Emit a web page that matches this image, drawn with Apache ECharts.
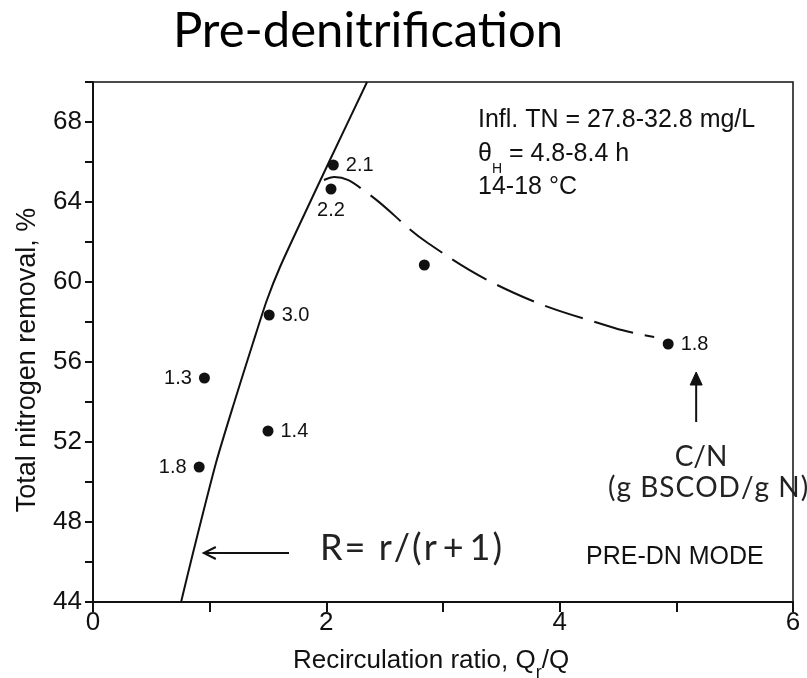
<!DOCTYPE html>
<html>
<head>
<meta charset="utf-8">
<script src="https://cdn.jsdelivr.net/npm/echarts@6/dist/echarts.min.js"></script>
<style>
  html, body { margin: 0; padding: 0; background: #ffffff; }
  #chart { width: 807px; height: 678px; }
</style>
</head>
<body>
<div id="chart"></div>
<script>
// Measured runs: recirculation ratio vs. total nitrogen removal, with the C/N ratio of each run
const ratio   = [0.91, 0.955, 1.50, 1.51, 2.04, 2.06, 2.84, 4.93];
const removal = [50.75, 55.2, 52.55, 58.35, 64.65, 65.85, 60.85, 56.9];
const cnRatio = ['1.8', '1.3', '1.4', '3.0', '2.2', '2.1', '', '1.8'];

// Ideal recycle curve R = r/(r+1), traced points
const curveX = [0.755, 0.857, 1.054, 1.217, 1.371, 1.491, 1.603, 1.817, 2.031, 2.349];
const curveY = [44, 46.45, 50.95, 54.1, 56.95, 59.1, 60.75, 63.45, 66.1, 70.0];

// Trend through the high-recirculation runs
const trendX = [1.98, 2.07, 2.34, 2.87, 3.61, 4.47, 4.81];
const trendY = [65.1, 65.25, 64.5, 61.95, 59.45, 57.7, 57.25];

// Tick labels
const xTickLabels = [0, 2, 4, 6];
const yTickLabels = [44, 48, 52, 56, 60, 64, 68];

// Pointer arrows (data units): [x1, y1, x2, y2, filledHead]
const pointerArrows = [
  [1.68, 46.45, 0.95, 46.45, 0],
  [5.17, 53.0, 5.17, 55.5, 1]
];

// ---- rendering ----
const INK = '#111111';
const SANS = '"Liberation Sans", Arial, sans-serif';
const HUMAN = 'Lato, "Open Sans", sans-serif';

// which side of the dot each C/N label sits on
const labelSide = ['left', 'left', 'right', 'right', 'bottom', 'right', 'right', 'right'];

const points = ratio.map((x, i) => ({
  value: [x, removal[i]],
  label: {
    show: cnRatio[i] !== '',
    formatter: cnRatio[i],
    position: labelSide[i],
    distance: labelSide[i] === 'bottom' ? 6 : 7
  }
}));

// spread characters a little, the way the annotation font sets them
function spaced(str, style, wide) {
  return str.split('').map(ch => `{${wide && wide.includes(ch) ? 'w' : style}|${ch}}`).join('');
}

const chart = echarts.init(document.getElementById('chart'), null, { renderer: 'canvas' });

chart.setOption({
  animation: false,
  backgroundColor: '#ffffff',
  grid: {
    left: 93, right: 14, top: 82, bottom: 76,
    show: true, borderColor: INK, borderWidth: 1.5, backgroundColor: 'transparent'
  },
  xAxis: {
    type: 'value', min: 0, max: 6, interval: 1,
    axisLine: { show: true, onZero: false, lineStyle: { color: INK, width: 2 } },
    axisTick: { show: true, inside: false, length: 10, lineStyle: { color: INK, width: 2 } },
    splitLine: { show: false },
    axisLabel: {
      color: INK, fontFamily: SANS, fontSize: 26, margin: 8,
      formatter: v => xTickLabels.includes(v) ? String(v) : ''
    }
  },
  yAxis: {
    type: 'value', min: 44, max: 70, interval: 2,
    axisLine: { show: true, onZero: false, lineStyle: { color: INK, width: 2 } },
    axisTick: { show: true, inside: false, length: 8, lineStyle: { color: INK, width: 2 } },
    splitLine: { show: false },
    axisLabel: {
      color: INK, fontFamily: SANS, fontSize: 26, margin: 11,
      formatter: v => yTickLabels.includes(v) ? String(v) : ''
    }
  },
  series: [
    {
      type: 'line', name: 'R = r/(r+1)',
      data: curveX.map((x, i) => [x, curveY[i]]),
      smooth: 0.25, showSymbol: false, clip: true,
      lineStyle: { color: INK, width: 2 }, z: 3
    },
    {
      type: 'line', name: 'trend',
      data: trendX.map((x, i) => [x, trendY[i]]),
      smooth: 0.4, showSymbol: false,
      lineStyle: { color: INK, width: 2, type: [40, 12] }, z: 3
    },
    {
      type: 'scatter', name: 'runs',
      data: points, symbol: 'circle', symbolSize: 11,
      itemStyle: { color: INK, opacity: 1 },
      label: { color: INK, fontFamily: SANS, fontSize: 20 },
      z: 5
    },
    {
      type: 'custom', name: 'arrows',
      data: pointerArrows,
      encode: { x: [0, 2], y: [1, 3] },
      silent: true, z: 4,
      renderItem: (params, api) => {
        const p1 = api.coord([api.value(0), api.value(1)]);
        const p2 = api.coord([api.value(2), api.value(3)]);
        const filled = api.value(4) === 1;
        const ang = Math.atan2(p2[1] - p1[1], p2[0] - p1[0]);
        const hl = filled ? 13 : 12, hw = 6;
        const back = (d, s) => [
          p2[0] - d * Math.cos(ang) - s * Math.sin(ang),
          p2[1] - d * Math.sin(ang) + s * Math.cos(ang)
        ];
        const end = filled ? back(hl - 2, 0) : p2;
        const children = [{
          type: 'line',
          shape: { x1: p1[0], y1: p1[1], x2: end[0], y2: end[1] },
          style: { stroke: INK, lineWidth: 2 }
        }];
        if (filled) {
          children.push({
            type: 'polygon',
            shape: { points: [p2, back(hl, hw), back(hl, -hw)] },
            style: { fill: INK, stroke: INK, lineWidth: 1 }
          });
        } else {
          children.push({
            type: 'polyline',
            shape: { points: [back(hl, hw), p2, back(hl, -hw)] },
            style: { stroke: INK, lineWidth: 2, fill: null }
          });
        }
        return { type: 'group', children };
      }
    }
  ],
  graphic: [
    {
      type: 'text', x: 368, y: 31,
      style: { text: 'Pre-denitrification', fill: '#000', font: '49px ' + HUMAN, textAlign: 'center', textVerticalAlign: 'middle' }
    },
    // axis titles
    {
      type: 'text', x: 28, y: 360, rotation: Math.PI / 2,
      style: { text: 'Total nitrogen removal, %', fill: INK, font: '27px ' + SANS, textAlign: 'center', textVerticalAlign: 'middle' }
    },
    {
      type: 'text', x: 431, y: 648,
      style: {
        text: '{a|Recirculation ratio, Q}{s|r}{a|/Q}', fill: INK, font: '26px ' + SANS,
        textAlign: 'center', textVerticalAlign: 'top',
        rich: {
          a: { fill: INK, font: '26px ' + SANS, verticalAlign: 'top', lineHeight: 28 },
          s: { fill: INK, font: '18px ' + SANS, verticalAlign: 'bottom', lineHeight: 34 }
        }
      }
    },
    // run conditions
    {
      type: 'text', x: 478, y: 120,
      style: { text: 'Infl. TN = 27.8-32.8 mg/L', fill: INK, font: '25px ' + SANS, textAlign: 'left', textVerticalAlign: 'middle' }
    },
    {
      type: 'text', x: 478, y: 142,
      style: {
        text: '{a|θ}{s|H}{a| = 4.8-8.4 h}', fill: INK, font: '25px ' + SANS, textAlign: 'left', textVerticalAlign: 'top',
        rich: {
          a: { fill: INK, font: '25px ' + SANS, verticalAlign: 'top', lineHeight: 27 },
          s: { fill: INK, font: '14px ' + SANS, verticalAlign: 'bottom', lineHeight: 34 }
        }
      }
    },
    {
      type: 'text', x: 478, y: 187,
      style: { text: '14-18 °C', fill: INK, font: '25px ' + SANS, textAlign: 'left', textVerticalAlign: 'middle' }
    },
    {
      type: 'text', x: 586, y: 557,
      style: { text: 'PRE-DN MODE', fill: INK, font: '25px ' + SANS, textAlign: 'left', textVerticalAlign: 'middle' }
    },
    // C/N pointer caption
    {
      type: 'text', x: 701, y: 457,
      style: { text: 'C/N', fill: '#222', font: '28px ' + HUMAN, textAlign: 'center', textVerticalAlign: 'middle' }
    },
    {
      type: 'text', x: 608, y: 488,
      style: {
        text: spaced('(g BSCOD/g N)', 'g'), fill: '#222', font: '28px ' + HUMAN, textAlign: 'left', textVerticalAlign: 'middle',
        rich: { g: { fill: '#222', font: '28px ' + HUMAN, padding: [0, 1, 0, 0] } }
      }
    },
    // recycle-efficiency caption
    {
      type: 'text', x: 320, y: 548,
      style: {
        text: spaced('R= r/(r+1)', 'g', '+'), fill: '#222', font: '36px ' + HUMAN, textAlign: 'left', textVerticalAlign: 'middle',
        rich: {
          g: { fill: '#222', font: '36px ' + HUMAN, padding: [0, 2, 0, 0] },
          w: { fill: '#222', font: '36px ' + HUMAN, padding: [0, 6, 0, 4] }
        }
      }
    }
  ]
});
</script>
</body>
</html>
